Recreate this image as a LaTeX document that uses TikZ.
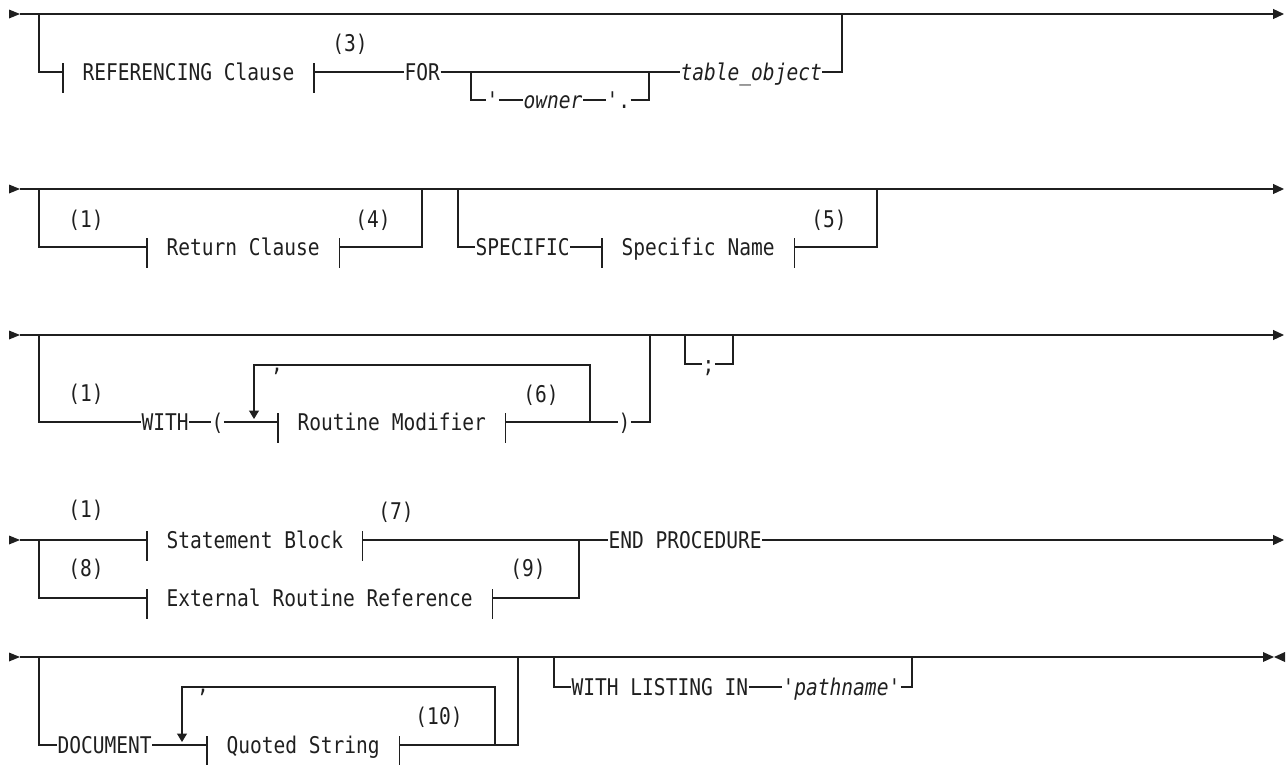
\documentclass[tikz,border=0pt]{standalone}
\usepackage{fontspec}
\setmonofont[FakeStretch=0.85]{DejaVu Sans Mono}
\usetikzlibrary{arrows.meta}
\newcommand{\rrfont}{\ttfamily\fontsize{23}{26}\selectfont}

\begin{document}
\begin{tikzpicture}[
    x=1pt, y=-1pt, line width=1.2pt, color=black!88, >={Triangle[length=11pt, width=10pt]},
    every node/.style={inner sep=0pt, font=\rrfont},
    word/.style={anchor=west, text height=16.8pt, text depth=0pt},
    frag/.style={word, inner xsep=19pt},
    note/.style={anchor=center},
    repeat_line/.style={-{Triangle[length=8.5pt, width=10pt]}}
]
\useasboundingbox (0,0) rectangle (1286,764);
\foreach \y in {14,189,335,540,657} \fill (9,\y-4.5) -- (20,\y) -- (9,\y+4.5) -- cycle;
\coordinate (row_one_start) at (20,14);
\coordinate (row_one_end) at (1284,14);
\coordinate (row_one_split) at (39,14);
\node[frag] (referencing_clause) at (63,72) {REFERENCING Clause};
\node[note] (note_three) at (350,44) {(3)};
\node[word] (for_kw) at (404,72) {FOR};
\coordinate (owner_split) at (471,72);
\coordinate (owner_join) at (649,72);
\node[word] (owner_quote) at (486,100) {'};
\node[word] (owner_name) at (523,100) {\itshape owner};
\node[word] (owner_dot) at (606,100) {'.};
\node[word] (table_object) at (680,72) {\itshape table\_object};
\coordinate (row_one_join) at (842,14);
\draw[->] (row_one_start) -- (row_one_end);
\draw (row_one_split) |- (referencing_clause.west);
\draw (referencing_clause.east) -- (for_kw.west);
\draw (for_kw.east) -- (table_object.west);
\draw (owner_split) |- (owner_quote.west);
\draw (owner_quote.east) -- (owner_name.west);
\draw (owner_name.east) -- (owner_dot.west);
\draw (owner_dot.east) -| (owner_join);
\draw (table_object.east) -| (row_one_join);
\coordinate (row_two_start) at (20,189);
\coordinate (row_two_end) at (1284,189);
\coordinate (row_two_split) at (39,189);
\coordinate (return_join) at (422,189);
\coordinate (specific_split) at (458,189);
\coordinate (specific_join) at (877,189);
\node[frag] (return_clause) at (147,247) {Return Clause};
\node[note] (note_one_a) at (86,220) {(1)};
\node[note] (note_four) at (373,220) {(4)};
\node[word] (specific_kw) at (475,247) {SPECIFIC};
\node[frag] (specific_name) at (602,247) {Specific Name};
\node[note] (note_five) at (829,220) {(5)};
\draw[->] (row_two_start) -- (row_two_end);
\draw (row_two_split) |- (return_clause.west);
\draw (return_clause.east) -| (return_join);
\draw (specific_split) |- (specific_kw.west);
\draw (specific_kw.east) -- (specific_name.west);
\draw (specific_name.east) -| (specific_join);
\coordinate (row_three_start) at (20,335);
\coordinate (row_three_end) at (1284,335);
\coordinate (row_three_split) at (39,335);
\coordinate (with_join) at (650,335);
\node[note] (note_one_b) at (86,394) {(1)};
\node[word] (with_kw) at (141,422) {WITH};
\node[word] (left_paren) at (211,422) {(};
\node[frag] (routine_modifier) at (278,422) {Routine Modifier};
\node[note] (note_six) at (541,395) {(6)};
\node[word] (right_paren) at (618,422) {)};
\node[anchor=base] (modifier_comma) at (277,371) {,};
\coordinate (modifier_back) at (590,422);
\coordinate (modifier_top) at (254,365);
\coordinate (modifier_into) at (254,419);
\coordinate (semi_split) at (685,335);
\coordinate (semi_join) at (733,335);
\node[word] (semicolon) at (702,364) {;};
\draw[->] (row_three_start) -- (row_three_end);
\draw (row_three_split) |- (with_kw.west);
\draw (with_kw.east) -- (left_paren.west);
\draw (left_paren.east) -- (routine_modifier.west);
\draw (routine_modifier.east) -- (right_paren.west);
\draw (right_paren.east) -| (with_join);
\draw[repeat_line] (modifier_back) |- (modifier_top) -- (modifier_into);
\draw (semi_split) |- (semicolon.west);
\draw (semicolon.east) -| (semi_join);
\coordinate (row_four_start) at (20,540);
\coordinate (row_four_end) at (1284,540);
\coordinate (row_four_split) at (39,540);
\coordinate (external_join) at (579,540);
\node[frag] (statement_block) at (147,540) {Statement Block};
\node[note] (note_one_c) at (86,510) {(1)};
\node[note] (note_seven) at (396,512) {(7)};
\node[frag] (external_reference) at (147,598) {External Routine Reference};
\node[note] (note_eight) at (86,569) {(8)};
\node[note] (note_nine) at (528,569) {(9)};
\node[word] (end_procedure) at (608,540) {END PROCEDURE};
\draw (row_four_start) -- (statement_block.west);
\draw (statement_block.east) -- (end_procedure.west);
\draw[->] (end_procedure.east) -- (row_four_end);
\draw (row_four_split) |- (external_reference.west);
\draw (external_reference.east) -| (external_join);
\coordinate (row_five_start) at (20,657);
\coordinate (row_five_end) at (1263,657);
\coordinate (row_five_split) at (39,657);
\coordinate (document_join) at (518,657);
\coordinate (listing_split) at (554,657);
\coordinate (listing_join) at (912,657);
\node[word] (document_kw) at (57,745) {DOCUMENT};
\node[frag] (quoted_string) at (207,745) {Quoted String};
\node[note] (note_ten) at (439,717) {(10)};
\node[anchor=base] (string_comma) at (203,692) {,};
\coordinate (string_back) at (495,745);
\coordinate (string_top) at (182,687);
\coordinate (string_into) at (182,742);
\node[word] (with_listing) at (571,687) {WITH LISTING IN};
\node[word] (pathname) at (782,687) {\itshape 'pathname'};
\draw (row_five_start) -- (row_five_end);
\draw (row_five_split) |- (document_kw.west);
\draw (document_kw.east) -- (quoted_string.west);
\draw (quoted_string.east) -| (document_join);
\draw[repeat_line] (string_back) |- (string_top) -- (string_into);
\draw (listing_split) |- (with_listing.west);
\draw (with_listing.east) -- (pathname.west);
\draw (pathname.east) -| (listing_join);
\fill (1263,652) -- (1274,657) -- (1263,662) -- cycle;
\fill (1285,652) -- (1274,657) -- (1285,662) -- cycle;
\foreach \f in {referencing_clause, return_clause, specific_name, routine_modifier, statement_block, external_reference, quoted_string}
    \draw ([yshift=9pt]\f.west) -- ([yshift=-21pt]\f.west) ([yshift=9pt]\f.east) -- ([yshift=-21pt]\f.east);
\end{tikzpicture}
\end{document}
